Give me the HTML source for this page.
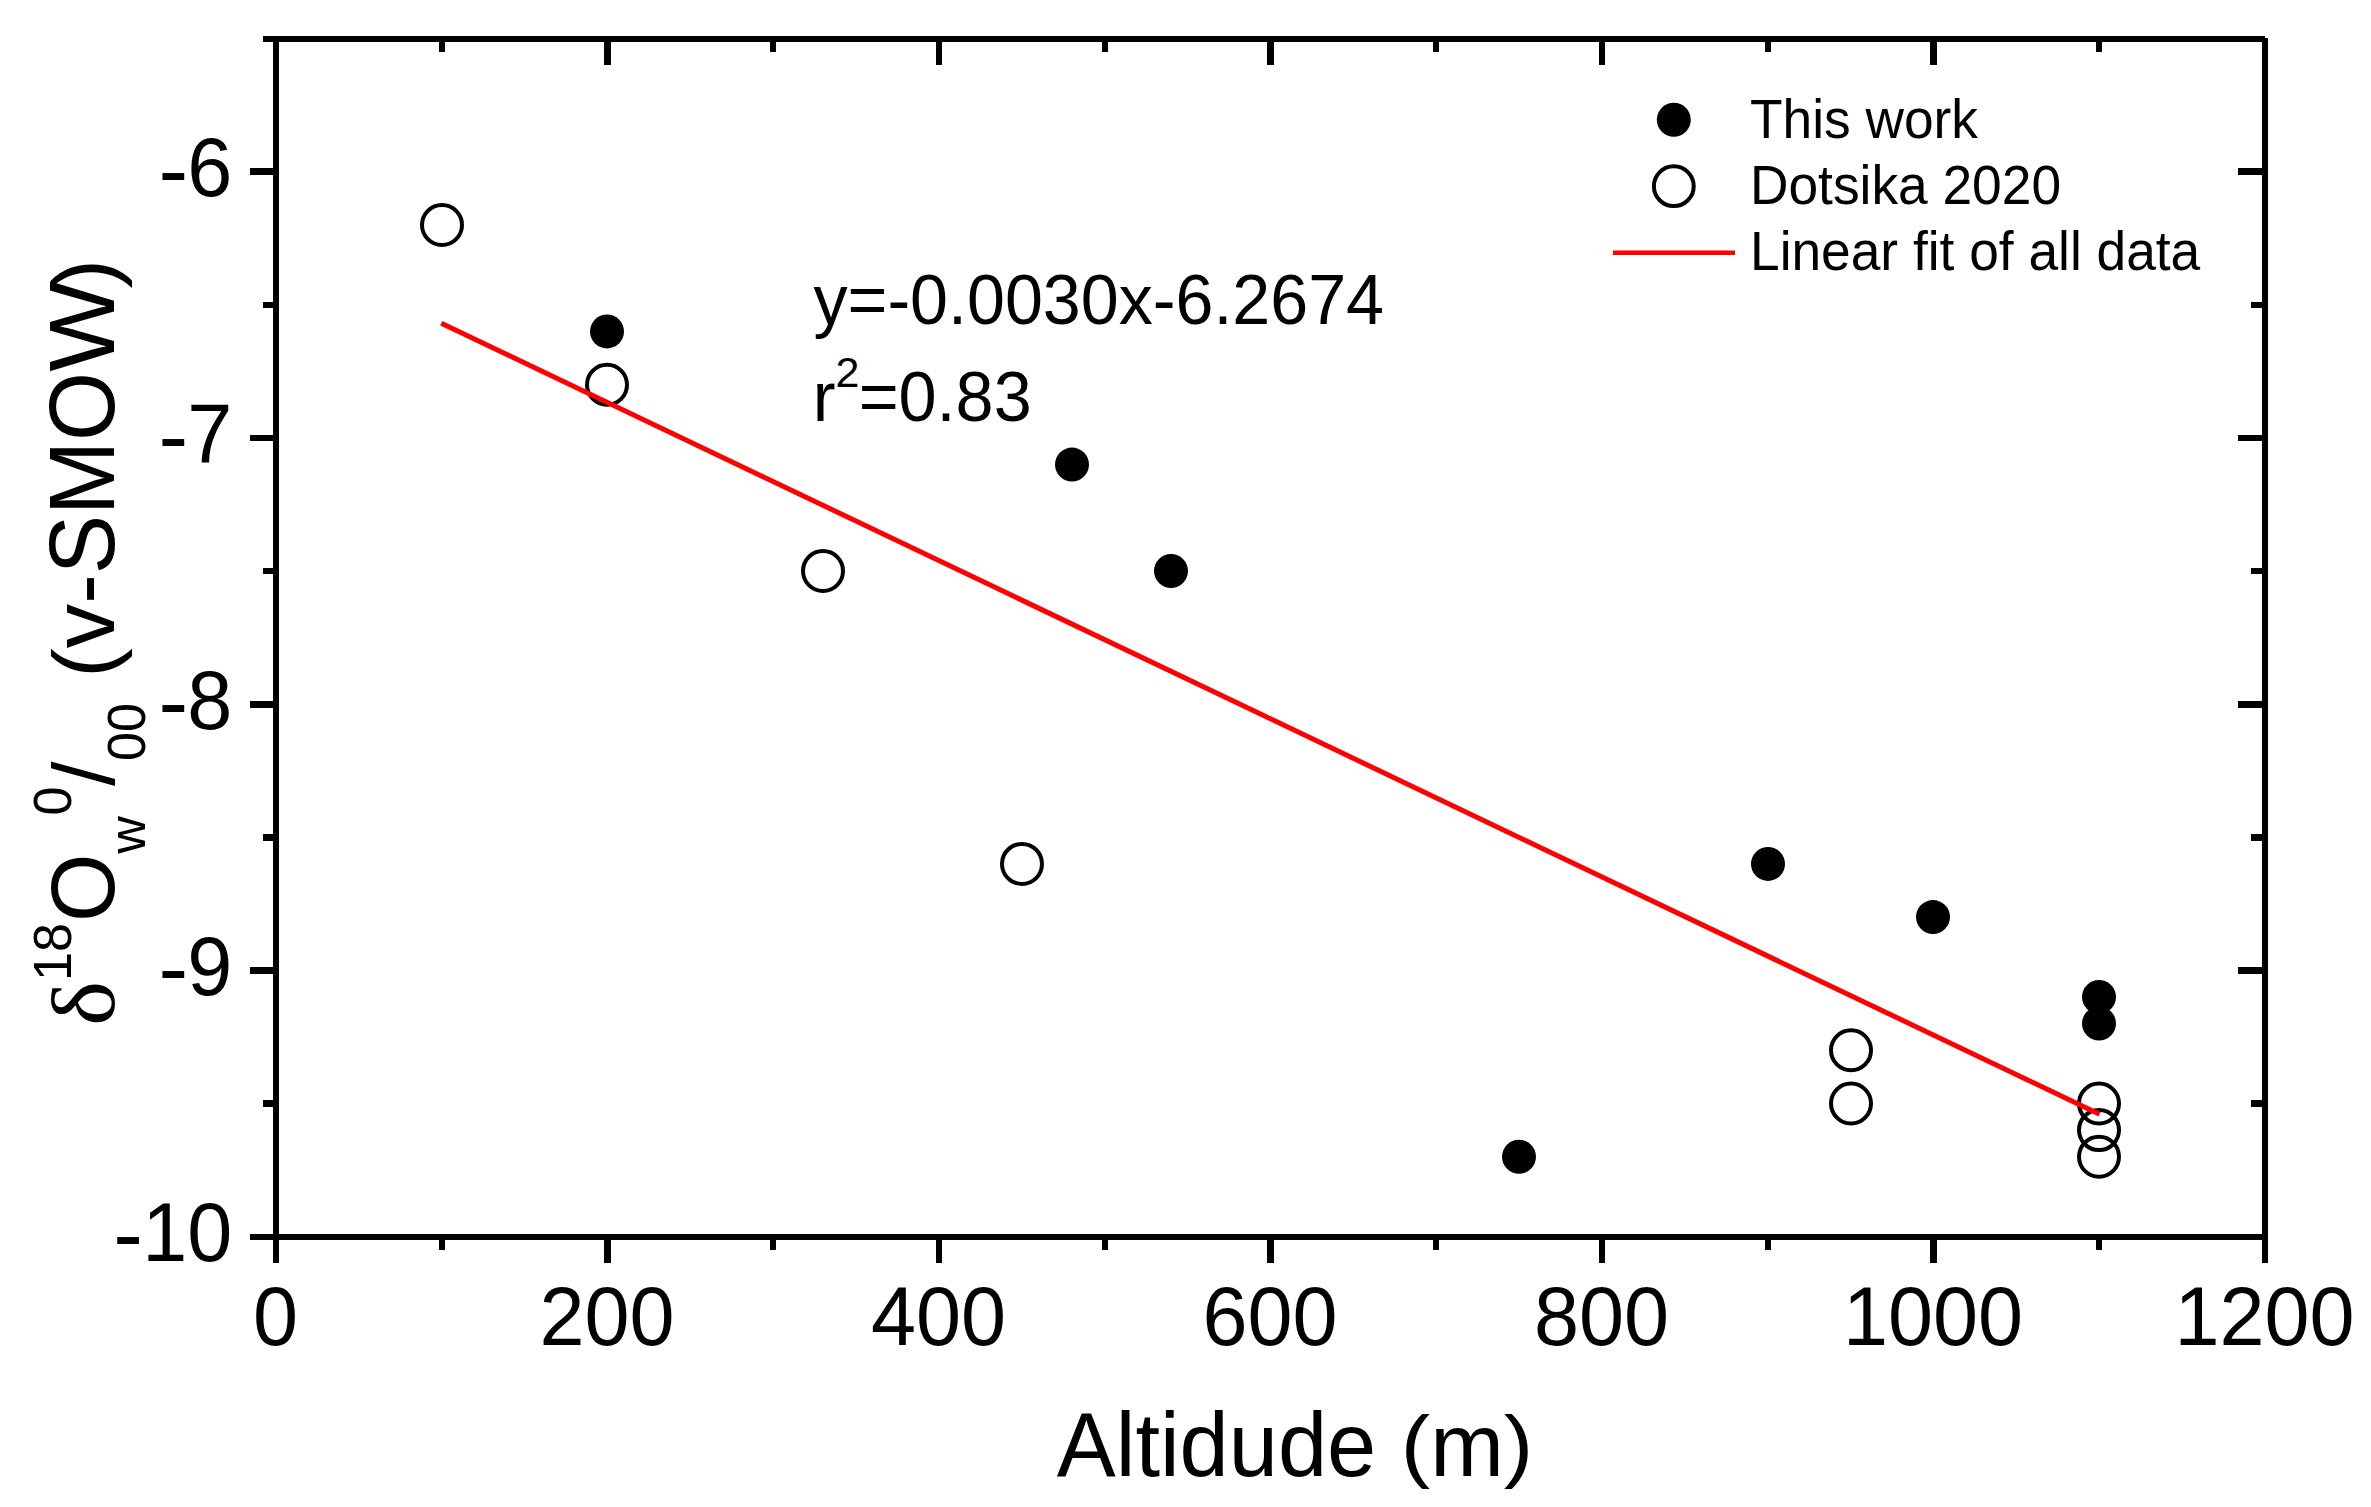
<!DOCTYPE html>
<html lang="en"><head><meta charset="utf-8"><title>Altitude vs d18O</title>
<style>html,body{margin:0;padding:0;background:#fff;overflow:hidden}svg{display:block}text{font-family:"Liberation Sans",sans-serif;fill:#000}.sy{font-family:"Liberation Serif","DejaVu Serif",serif}</style>
</head><body>
<svg width="2371" height="1507" viewBox="0 0 2371 1507">
<rect x="0" y="0" width="2371" height="1507" fill="#fff"/>
<g fill="#000" shape-rendering="crispEdges">
<rect x="263" y="36" width="2002" height="6"/>
<rect x="250" y="1234" width="2012" height="6"/>
<rect x="273" y="36" width="6" height="1227"/>
<rect x="2262" y="38" width="6" height="1225"/>
<rect x="439" y="1240" width="6" height="10"/>
<rect x="439" y="42" width="6" height="10"/>
<rect x="604" y="1240" width="7" height="23"/>
<rect x="604" y="42" width="7" height="23"/>
<rect x="770" y="1240" width="6" height="10"/>
<rect x="770" y="42" width="6" height="10"/>
<rect x="936" y="1240" width="6" height="23"/>
<rect x="936" y="42" width="6" height="23"/>
<rect x="1102" y="1240" width="6" height="10"/>
<rect x="1102" y="42" width="6" height="10"/>
<rect x="1267" y="1240" width="7" height="23"/>
<rect x="1267" y="42" width="7" height="23"/>
<rect x="1433" y="1240" width="6" height="10"/>
<rect x="1433" y="42" width="6" height="10"/>
<rect x="1599" y="1240" width="6" height="23"/>
<rect x="1599" y="42" width="6" height="23"/>
<rect x="1765" y="1240" width="6" height="10"/>
<rect x="1765" y="42" width="6" height="10"/>
<rect x="1930" y="1240" width="7" height="23"/>
<rect x="1930" y="42" width="7" height="23"/>
<rect x="2096" y="1240" width="6" height="10"/>
<rect x="2096" y="42" width="6" height="10"/>
<rect x="263" y="1100" width="10" height="7"/>
<rect x="2251" y="1100" width="11" height="7"/>
<rect x="250" y="967" width="23" height="7"/>
<rect x="2238" y="967" width="24" height="7"/>
<rect x="263" y="834" width="10" height="7"/>
<rect x="2251" y="834" width="11" height="7"/>
<rect x="250" y="701" width="23" height="7"/>
<rect x="2238" y="701" width="24" height="7"/>
<rect x="263" y="568" width="10" height="6"/>
<rect x="2251" y="568" width="11" height="6"/>
<rect x="250" y="435" width="23" height="6"/>
<rect x="2238" y="435" width="24" height="6"/>
<rect x="263" y="302" width="10" height="6"/>
<rect x="2251" y="302" width="11" height="6"/>
<rect x="250" y="168" width="23" height="7"/>
<rect x="2238" y="168" width="24" height="7"/>
</g>
<text transform="translate(275.50,1345.00) scale(1,1.025)" font-size="81" text-anchor="middle">0</text>
<text transform="translate(607.00,1345.00) scale(1,1.025)" font-size="81" text-anchor="middle">200</text>
<text transform="translate(938.50,1345.00) scale(1,1.025)" font-size="81" text-anchor="middle">400</text>
<text transform="translate(1270.00,1345.00) scale(1,1.025)" font-size="81" text-anchor="middle">600</text>
<text transform="translate(1601.50,1345.00) scale(1,1.025)" font-size="81" text-anchor="middle">800</text>
<text transform="translate(1933.00,1345.00) scale(1,1.025)" font-size="81" text-anchor="middle">1000</text>
<text transform="translate(2264.50,1345.00) scale(1,1.025)" font-size="81" text-anchor="middle">1200</text>
<g><text transform="translate(113.36,1264.40) scale(1.1,1.1)" font-size="81">-</text><text transform="translate(232.30,1261.00) scale(1,1.025)" font-size="81" text-anchor="end">10</text></g>
<g><text transform="translate(158.39,998.18) scale(1.1,1.1)" font-size="81">-</text><text transform="translate(232.30,994.78) scale(1,1.025)" font-size="81" text-anchor="end">9</text></g>
<g><text transform="translate(158.39,731.96) scale(1.1,1.1)" font-size="81">-</text><text transform="translate(232.30,728.56) scale(1,1.025)" font-size="81" text-anchor="end">8</text></g>
<g><text transform="translate(158.39,465.73) scale(1.1,1.1)" font-size="81">-</text><text transform="translate(232.30,462.33) scale(1,1.025)" font-size="81" text-anchor="end">7</text></g>
<g><text transform="translate(158.39,199.51) scale(1.1,1.1)" font-size="81">-</text><text transform="translate(232.30,196.11) scale(1,1.025)" font-size="81" text-anchor="end">6</text></g>
<g fill="#000">
<circle cx="607" cy="331.4" r="17"/>
<circle cx="1072" cy="464.6" r="17"/>
<circle cx="1171" cy="571.0" r="17"/>
<circle cx="1519" cy="1156.7" r="17"/>
<circle cx="1768" cy="863.9" r="17"/>
<circle cx="1933" cy="917.1" r="17"/>
<circle cx="2099" cy="997.0" r="17"/>
<circle cx="2099" cy="1023.6" r="17"/>
</g>
<g fill="none" stroke="#000" stroke-width="4">
<circle cx="442" cy="225.0" r="20"/>
<circle cx="607" cy="384.7" r="20"/>
<circle cx="823" cy="571.0" r="20"/>
<circle cx="1022" cy="863.9" r="20"/>
<circle cx="1851" cy="1050.2" r="20"/>
<circle cx="1851" cy="1103.5" r="20"/>
<circle cx="2099" cy="1103.5" r="20"/>
<circle cx="2099" cy="1130.1" r="20"/>
<circle cx="2099" cy="1156.7" r="20"/>
</g>
<line x1="441.3" y1="323.2" x2="2099.5" y2="1114.3" stroke="#f00" stroke-width="5"/>
<circle cx="1673.8" cy="119.7" r="17" fill="#000"/>
<circle cx="1673.8" cy="186.2" r="19.9" fill="none" stroke="#000" stroke-width="4"/>
<line x1="1613" y1="252.7" x2="1735" y2="252.7" stroke="#f00" stroke-width="4.6"/>
<text transform="translate(1750.00,138.30) scale(1,1.04)" font-size="53.3">This work</text>
<text transform="translate(1750.00,204.20) scale(1,1.04)" font-size="53.3">Dotsika 2020</text>
<text transform="translate(1750.00,270.10) scale(1,1.04)" font-size="53.3">Linear fit of all data</text>
<text transform="translate(813.50,324.20) scale(1,1.03)" font-size="68.2">y=-0.0030x-6.2674</text>
<g><text transform="translate(812.80,420.90) scale(1,1.03)" font-size="68.4">r</text><text transform="translate(835.58,387.10) scale(1,1)" font-size="43">2</text><text transform="translate(858.65,420.90) scale(1,1.03)" font-size="68.4">=0.83</text></g>
<g><text transform="translate(1056.80,1476.00) scale(1,1.035)" font-size="88.4">Altidude </text><text transform="translate(1400.76,1471.60) scale(1,0.911)" font-size="88.4">(</text><text transform="translate(1430.20,1476.00) scale(1,1)" font-size="88.4">m</text><text transform="translate(1503.84,1471.60) scale(1,0.911)" font-size="88.4">)</text></g>
<g><g transform="rotate(-90)"><text transform="translate(-1025.70,114.30) scale(1.08,1)" font-size="88" class="sy">δ</text><text transform="translate(-981.00,70.80) scale(1,1.038)" font-size="52">18</text><text transform="translate(-922.00,114.20) scale(1,1.038)" font-size="88">O</text><text transform="translate(-853.80,145.20) scale(1,1)" font-size="52">w</text><text transform="translate(-815.50,70.80) scale(1,1.038)" font-size="52">0</text><text transform="translate(-786.00,114.20) scale(1,1)" font-size="88">/</text><text transform="translate(-761.00,145.20) scale(1,1.038)" font-size="52">00 </text><text transform="translate(-677.70,113.60) scale(1,0.976)" font-size="88.8">(</text><text transform="translate(-648.13,114.20) scale(1,1)" font-size="88.8">v-</text><text transform="translate(-574.16,114.20) scale(1,1.038)" font-size="88.8">SMO</text><text transform="translate(-371.80,114.20) scale(1.085,1.038)" font-size="88.8">W</text><text transform="translate(-288.52,113.60) scale(1,0.976)" font-size="88.8">)</text></g></g>
</svg></body></html>
